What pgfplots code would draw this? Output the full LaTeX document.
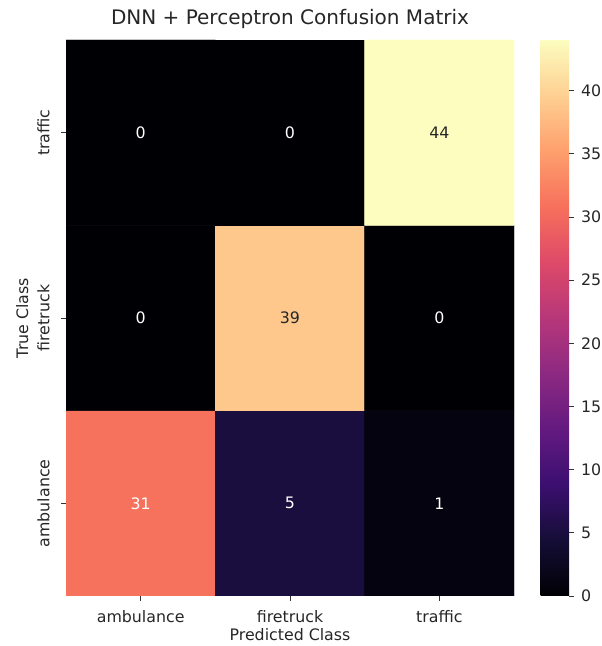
\documentclass[border=0pt]{standalone}
\usepackage{pgfplots}
\pgfplotsset{compat=1.18}
\usepackage{fontspec}
\setmainfont{DejaVu Sans}
\definecolor{darktext}{gray}{0.15}
\pgfplotsset{colormap={magma}{
 rgb=(0.001462,0.000466,0.013866)
 rgb=(0.078815,0.054184,0.211667)
 rgb=(0.232077,0.059889,0.437695)
 rgb=(0.390384,0.100379,0.501864)
 rgb=(0.550287,0.161158,0.505719)
 rgb=(0.716387,0.214982,0.475290)
 rgb=(0.868793,0.287728,0.409303)
 rgb=(0.967671,0.439703,0.359810)
 rgb=(0.994738,0.624350,0.427397)
 rgb=(0.995680,0.812706,0.572645)
 rgb=(0.987053,0.991438,0.749504)
}}
\pgfplotstableread{
x y c
0 0 31
1 0 5
2 0 1
0 1 0
1 1 39
2 1 0
0 2 0
1 2 0
2 2 44
}\cmdata
\pgfplotstableread{
x y label
0 0 31
1 0 5
2 0 1
0 1 0
2 1 0
0 2 0
1 2 0
}\whitelabels
\pgfplotstableread{
x y label
1 1 39
2 2 44
}\darklabels
\begin{document}
\begin{tikzpicture}
\useasboundingbox (0,0) rectangle (602bp,646bp);
\begin{axis}[
 at={(66bp,50bp)}, anchor=south west,
 scale only axis, width=448bp, height=556bp,
 xmin=-0.5, xmax=2.5, ymin=-0.5, ymax=2.5,
 xtick={0,1,2}, xticklabels={ambulance,firetruck,traffic},
 ytick={0,1,2}, yticklabels={ambulance,firetruck,traffic},
 yticklabel style={rotate=90, anchor=south},
 yticklabel shift=8bp, xticklabel shift=6bp,
 tick align=outside, xtick pos=bottom, ytick pos=left,
 major tick length=5bp,
 axis line style={draw=none},
 tick style={black!80, line width=0.8bp},
 colormap name=magma,
 point meta min=0, point meta max=44,
 font=\fontsize{15.8bp}{19bp}\selectfont,
 ticklabel style={font=\fontsize{15.8bp}{19bp}\selectfont, text=darktext},
 label style={font=\fontsize{15.8bp}{19bp}\selectfont, text=darktext},
 title={DNN + Perceptron Confusion Matrix},
 title style={font=\fontsize{20bp}{24bp}\selectfont, text=darktext, at={(0.5,1)}, anchor=base, yshift=10bp},
 xlabel={Predicted Class}, ylabel={True Class},
 xlabel style={yshift=1bp},
 ylabel style={yshift=2bp},
 colorbar,
 colorbar/width=28.5bp,
 colorbar style={
   at={(parent axis.north east)}, anchor=north west, xshift=18bp,
   scale only axis,
   ytick={0,5,...,40},
   axis line style={draw=none},
   tick align=outside, major tick length=4.5bp,
   tick style={black!80, line width=0.8bp},
   ytick pos=right, yticklabel pos=right,
   yticklabel shift=4bp,
   yticklabel style={font=\fontsize{15.8bp}{19bp}\selectfont, text=darktext, /pgf/number format/assume math mode=true},
 },
]
\addplot[matrix plot*, mesh/cols=3, point meta=explicit] table[meta=c] {\cmdata};
\addplot[only marks, mark=none, nodes near coords, point meta=explicit symbolic,
  nodes near coords align=center,
  nodes near coords style={text=white, font=\fontsize{15.8bp}{19bp}\selectfont, /pgf/number format/assume math mode=true}]
  table[meta=label] {\whitelabels};
\addplot[only marks, mark=none, nodes near coords, point meta=explicit symbolic,
  nodes near coords align=center,
  nodes near coords style={text=darktext, font=\fontsize{15.8bp}{19bp}\selectfont}]
  table[meta=label] {\darklabels};
\end{axis}
\end{tikzpicture}
\end{document}
